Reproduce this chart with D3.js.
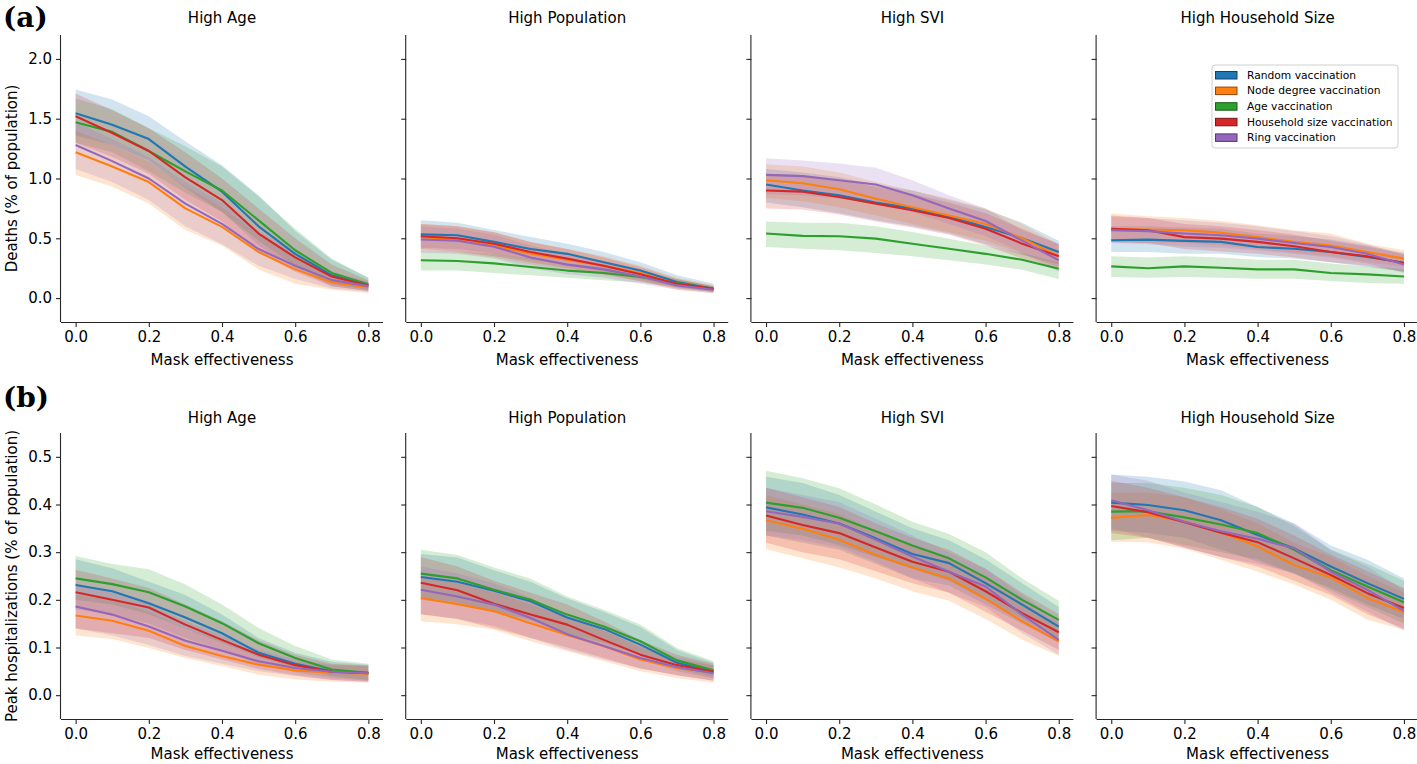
<!DOCTYPE html>
<html>
<head>
<meta charset="utf-8">
<script src="https://cdn.jsdelivr.net/npm/d3@7/dist/d3.min.js"></script>
<style>
  html, body { margin: 0; padding: 0; background: #fff; }
  svg { display: block; font-family: "DejaVu Sans", sans-serif; }
</style>
</head>
<body>
<svg id="chart" width="1417" height="764"></svg>
<script>
// ---------------- DATA ----------------
const maskEffectiveness = [0, 0.1, 0.2, 0.3, 0.4, 0.5, 0.6, 0.7, 0.8];
const xTicks = [0, 0.2, 0.4, 0.6, 0.8];
const deathTicks = [0, 0.5, 1.0, 1.5, 2.0];
const hospTicks = [0, 0.1, 0.2, 0.3, 0.4, 0.5];
const scenarios = ["High Age", "High Population", "High SVI", "High Household Size"];
const strategies = ["Random vaccination", "Node degree vaccination", "Age vaccination", "Household size vaccination", "Ring vaccination"];
const strategyColors = ["#1f77b4", "#ff7f0e", "#2ca02c", "#d62728", "#9467bd"];
const rowLabels = ["(a)", "(b)"];
const yLabels = ["Deaths (% of population)", "Peak hospitalizations (% of population)"];
const xLabel = "Mask effectiveness";

// Row (a): deaths. Order of series: Random, Node degree, Age, Household size, Ring
const deathsAgeMean = [
  [1.545, 1.45, 1.33, 1.10, 0.89, 0.60, 0.37, 0.19, 0.11],
  [1.22, 1.10, 0.97, 0.75, 0.595, 0.385, 0.24, 0.13, 0.09],
  [1.47, 1.39, 1.23, 1.06, 0.90, 0.65, 0.40, 0.21, 0.115],
  [1.52, 1.38, 1.23, 1.01, 0.82, 0.54, 0.34, 0.18, 0.105],
  [1.28, 1.145, 1.0, 0.79, 0.62, 0.41, 0.27, 0.15, 0.10]
];
const deathsAgeHi = [
  [1.745, 1.66, 1.52, 1.31, 1.11, 0.86, 0.56, 0.32, 0.17],
  [1.40, 1.28, 1.14, 0.93, 0.76, 0.53, 0.35, 0.20, 0.13],
  [1.67, 1.58, 1.42, 1.27, 1.10, 0.85, 0.58, 0.33, 0.17],
  [1.71, 1.57, 1.42, 1.22, 1.00, 0.75, 0.50, 0.28, 0.15],
  [1.47, 1.33, 1.18, 0.97, 0.80, 0.56, 0.38, 0.22, 0.14]
];
const deathsAgeLo = [
  [1.36, 1.28, 1.15, 0.92, 0.72, 0.44, 0.25, 0.10, 0.06],
  [1.03, 0.93, 0.79, 0.57, 0.44, 0.24, 0.12, 0.07, 0.04],
  [1.30, 1.22, 1.06, 0.88, 0.72, 0.48, 0.27, 0.12, 0.07],
  [1.30, 1.18, 1.04, 0.82, 0.64, 0.38, 0.22, 0.10, 0.06],
  [1.08, 0.97, 0.82, 0.60, 0.45, 0.27, 0.16, 0.08, 0.05]
];

const deathsPopMean = [
  [0.533, 0.525, 0.47, 0.41, 0.37, 0.30, 0.23, 0.134, 0.078],
  [0.51, 0.49, 0.44, 0.37, 0.32, 0.27, 0.21, 0.115, 0.073],
  [0.316, 0.31, 0.29, 0.26, 0.23, 0.21, 0.176, 0.126, 0.078],
  [0.517, 0.50, 0.455, 0.385, 0.33, 0.27, 0.20, 0.12, 0.078],
  [0.49, 0.48, 0.43, 0.34, 0.28, 0.24, 0.18, 0.106, 0.07]
];
const deathsPopHi = [
  [0.65, 0.63, 0.57, 0.51, 0.455, 0.385, 0.30, 0.19, 0.12],
  [0.62, 0.60, 0.55, 0.47, 0.41, 0.35, 0.27, 0.17, 0.11],
  [0.40, 0.39, 0.37, 0.33, 0.29, 0.26, 0.22, 0.16, 0.10],
  [0.62, 0.60, 0.55, 0.47, 0.41, 0.34, 0.26, 0.16, 0.10],
  [0.60, 0.58, 0.53, 0.44, 0.37, 0.31, 0.24, 0.15, 0.10]
];
const deathsPopLo = [
  [0.42, 0.41, 0.37, 0.32, 0.28, 0.22, 0.16, 0.09, 0.05],
  [0.40, 0.38, 0.34, 0.28, 0.24, 0.19, 0.14, 0.07, 0.04],
  [0.23, 0.23, 0.21, 0.19, 0.17, 0.15, 0.13, 0.09, 0.05],
  [0.41, 0.39, 0.35, 0.30, 0.25, 0.20, 0.14, 0.08, 0.05],
  [0.38, 0.37, 0.33, 0.25, 0.20, 0.17, 0.12, 0.07, 0.04]
];

const deathsSviMean = [
  [0.95, 0.90, 0.86, 0.80, 0.75, 0.68, 0.595, 0.50, 0.385],
  [0.985, 0.96, 0.91, 0.83, 0.76, 0.69, 0.62, 0.50, 0.35],
  [0.54, 0.52, 0.517, 0.497, 0.455, 0.413, 0.37, 0.32, 0.245],
  [0.90, 0.89, 0.846, 0.79, 0.735, 0.67, 0.58, 0.455, 0.35],
  [1.03, 1.02, 0.985, 0.95, 0.86, 0.75, 0.645, 0.48, 0.316]
];
const deathsSviHi = [
  [1.08, 1.05, 1.01, 0.95, 0.90, 0.82, 0.74, 0.63, 0.48],
  [1.12, 1.10, 1.05, 0.97, 0.90, 0.83, 0.75, 0.62, 0.45],
  [0.64, 0.63, 0.63, 0.60, 0.553, 0.497, 0.44, 0.377, 0.30],
  [1.04, 1.03, 0.99, 0.93, 0.87, 0.80, 0.71, 0.58, 0.45],
  [1.17, 1.15, 1.125, 1.09, 0.985, 0.86, 0.75, 0.567, 0.455]
];
const deathsSviLo = [
  [0.80, 0.76, 0.71, 0.65, 0.60, 0.54, 0.45, 0.36, 0.28],
  [0.84, 0.81, 0.76, 0.69, 0.62, 0.55, 0.48, 0.37, 0.26],
  [0.427, 0.413, 0.40, 0.377, 0.35, 0.316, 0.28, 0.237, 0.16],
  [0.75, 0.74, 0.70, 0.64, 0.59, 0.53, 0.44, 0.33, 0.25],
  [0.87, 0.86, 0.83, 0.79, 0.72, 0.62, 0.52, 0.38, 0.22]
];

const deathsHhMean = [
  [0.483, 0.489, 0.478, 0.47, 0.427, 0.413, 0.385, 0.343, 0.296],
  [0.58, 0.573, 0.567, 0.547, 0.51, 0.47, 0.44, 0.385, 0.33],
  [0.265, 0.25, 0.265, 0.254, 0.24, 0.24, 0.21, 0.198, 0.18],
  [0.58, 0.567, 0.51, 0.497, 0.47, 0.433, 0.385, 0.35, 0.293],
  [0.567, 0.56, 0.54, 0.525, 0.497, 0.46, 0.427, 0.37, 0.28]
];
const deathsHhHi = [
  [0.60, 0.60, 0.59, 0.58, 0.54, 0.52, 0.49, 0.44, 0.38],
  [0.707, 0.684, 0.67, 0.645, 0.61, 0.567, 0.54, 0.455, 0.40],
  [0.35, 0.34, 0.35, 0.34, 0.32, 0.32, 0.29, 0.265, 0.245],
  [0.69, 0.67, 0.62, 0.60, 0.57, 0.53, 0.48, 0.43, 0.37],
  [0.68, 0.67, 0.65, 0.63, 0.60, 0.56, 0.52, 0.45, 0.36]
];
const deathsHhLo = [
  [0.385, 0.385, 0.37, 0.37, 0.343, 0.33, 0.30, 0.26, 0.22],
  [0.47, 0.46, 0.46, 0.44, 0.41, 0.38, 0.35, 0.30, 0.26],
  [0.176, 0.17, 0.176, 0.17, 0.162, 0.162, 0.142, 0.126, 0.12],
  [0.47, 0.46, 0.41, 0.39, 0.37, 0.34, 0.30, 0.27, 0.22],
  [0.46, 0.45, 0.43, 0.42, 0.40, 0.37, 0.34, 0.29, 0.21]
];

// Row (b): peak hospitalizations
const hospAgeMean = [
  [0.231, 0.218, 0.193, 0.163, 0.13, 0.089, 0.066, 0.05, 0.047],
  [0.167, 0.156, 0.135, 0.103, 0.082, 0.064, 0.052, 0.047, 0.045],
  [0.245, 0.233, 0.216, 0.186, 0.151, 0.109, 0.078, 0.054, 0.047],
  [0.216, 0.20, 0.184, 0.148, 0.116, 0.085, 0.063, 0.049, 0.046],
  [0.186, 0.169, 0.144, 0.114, 0.093, 0.071, 0.057, 0.049, 0.046]
];
const hospAgeHi = [
  [0.285, 0.266, 0.238, 0.21, 0.169, 0.12, 0.089, 0.07, 0.064],
  [0.21, 0.20, 0.175, 0.14, 0.115, 0.09, 0.07, 0.062, 0.06],
  [0.292, 0.275, 0.264, 0.232, 0.19, 0.141, 0.103, 0.075, 0.066],
  [0.263, 0.245, 0.225, 0.19, 0.155, 0.115, 0.085, 0.066, 0.062],
  [0.235, 0.215, 0.19, 0.155, 0.125, 0.095, 0.075, 0.064, 0.062]
];
const hospAgeLo = [
  [0.18, 0.17, 0.15, 0.12, 0.095, 0.065, 0.048, 0.036, 0.03],
  [0.125, 0.118, 0.099, 0.078, 0.061, 0.043, 0.033, 0.028, 0.026],
  [0.20, 0.19, 0.17, 0.14, 0.11, 0.08, 0.058, 0.04, 0.032],
  [0.14, 0.13, 0.12, 0.095, 0.075, 0.055, 0.042, 0.032, 0.028],
  [0.14, 0.125, 0.105, 0.082, 0.066, 0.05, 0.04, 0.032, 0.028]
];

const hospPopMean = [
  [0.248, 0.238, 0.219, 0.197, 0.163, 0.139, 0.106, 0.068, 0.049],
  [0.204, 0.191, 0.176, 0.151, 0.126, 0.103, 0.075, 0.057, 0.047],
  [0.255, 0.245, 0.221, 0.20, 0.169, 0.144, 0.113, 0.073, 0.052],
  [0.236, 0.22, 0.192, 0.169, 0.148, 0.116, 0.085, 0.063, 0.049],
  [0.221, 0.207, 0.19, 0.162, 0.128, 0.103, 0.078, 0.059, 0.046]
];
const hospPopHi = [
  [0.296, 0.289, 0.262, 0.238, 0.203, 0.175, 0.143, 0.095, 0.068],
  [0.25, 0.235, 0.215, 0.19, 0.162, 0.135, 0.10, 0.075, 0.062],
  [0.305, 0.294, 0.268, 0.244, 0.207, 0.179, 0.148, 0.099, 0.071],
  [0.29, 0.27, 0.24, 0.215, 0.19, 0.155, 0.115, 0.085, 0.066],
  [0.27, 0.255, 0.235, 0.205, 0.165, 0.135, 0.105, 0.08, 0.063]
];
const hospPopLo = [
  [0.20, 0.19, 0.175, 0.155, 0.125, 0.105, 0.075, 0.05, 0.035],
  [0.155, 0.149, 0.137, 0.113, 0.092, 0.071, 0.05, 0.036, 0.026],
  [0.205, 0.195, 0.175, 0.158, 0.13, 0.11, 0.085, 0.055, 0.038],
  [0.17, 0.16, 0.14, 0.12, 0.10, 0.078, 0.056, 0.042, 0.03],
  [0.17, 0.16, 0.145, 0.12, 0.095, 0.075, 0.056, 0.042, 0.03]
];

const hospSviMean = [
  [0.394, 0.379, 0.36, 0.329, 0.296, 0.277, 0.235, 0.19, 0.144],
  [0.367, 0.349, 0.326, 0.294, 0.268, 0.245, 0.202, 0.155, 0.113],
  [0.404, 0.393, 0.372, 0.344, 0.314, 0.287, 0.247, 0.20, 0.158],
  [0.377, 0.357, 0.34, 0.31, 0.28, 0.259, 0.218, 0.172, 0.132],
  [0.386, 0.374, 0.36, 0.326, 0.291, 0.259, 0.228, 0.169, 0.116]
];
const hospSviHi = [
  [0.458, 0.445, 0.42, 0.385, 0.35, 0.325, 0.285, 0.235, 0.185],
  [0.42, 0.40, 0.38, 0.345, 0.315, 0.29, 0.245, 0.195, 0.15],
  [0.471, 0.455, 0.434, 0.40, 0.364, 0.338, 0.30, 0.245, 0.198],
  [0.435, 0.415, 0.395, 0.36, 0.33, 0.305, 0.265, 0.215, 0.17],
  [0.435, 0.42, 0.405, 0.37, 0.335, 0.30, 0.265, 0.21, 0.155]
];
const hospSviLo = [
  [0.335, 0.32, 0.305, 0.275, 0.245, 0.23, 0.19, 0.15, 0.11],
  [0.306, 0.287, 0.268, 0.245, 0.218, 0.198, 0.16, 0.116, 0.082],
  [0.345, 0.335, 0.315, 0.29, 0.265, 0.24, 0.2, 0.16, 0.12],
  [0.32, 0.30, 0.285, 0.26, 0.235, 0.215, 0.175, 0.135, 0.095],
  [0.335, 0.325, 0.31, 0.28, 0.245, 0.215, 0.185, 0.13, 0.085]
];

const hospHhMean = [
  [0.404, 0.399, 0.388, 0.367, 0.336, 0.308, 0.27, 0.235, 0.202],
  [0.372, 0.378, 0.365, 0.341, 0.312, 0.273, 0.247, 0.204, 0.174],
  [0.385, 0.386, 0.373, 0.358, 0.34, 0.305, 0.262, 0.228, 0.195],
  [0.397, 0.384, 0.363, 0.341, 0.321, 0.287, 0.252, 0.214, 0.183],
  [0.409, 0.388, 0.364, 0.344, 0.328, 0.308, 0.259, 0.221, 0.177]
];
const hospHhHi = [
  [0.463, 0.458, 0.448, 0.43, 0.395, 0.36, 0.314, 0.284, 0.245],
  [0.425, 0.425, 0.415, 0.39, 0.36, 0.32, 0.29, 0.25, 0.215],
  [0.445, 0.445, 0.435, 0.42, 0.395, 0.355, 0.305, 0.275, 0.24],
  [0.45, 0.435, 0.415, 0.395, 0.37, 0.335, 0.295, 0.26, 0.225],
  [0.463, 0.45, 0.425, 0.405, 0.385, 0.36, 0.305, 0.27, 0.22]
];
const hospHhLo = [
  [0.345, 0.34, 0.33, 0.305, 0.28, 0.255, 0.225, 0.19, 0.16],
  [0.322, 0.321, 0.307, 0.284, 0.259, 0.232, 0.20, 0.158, 0.137],
  [0.325, 0.33, 0.315, 0.3, 0.285, 0.255, 0.22, 0.185, 0.15],
  [0.34, 0.33, 0.31, 0.29, 0.27, 0.24, 0.21, 0.17, 0.14],
  [0.35, 0.33, 0.31, 0.29, 0.275, 0.255, 0.215, 0.175, 0.135]
];

// ---------------- LAYOUT ----------------
const svg = d3.select("#chart");
const panelLeft0 = 61, panelStep = 345.2, panelW = 322;
const rows = [
  { top: 35, bottom: 322, domain: [-0.2, 2.2], ticks: deathTicks,
    panels: [[deathsAgeMean, deathsAgeLo, deathsAgeHi], [deathsPopMean, deathsPopLo, deathsPopHi],
             [deathsSviMean, deathsSviLo, deathsSviHi], [deathsHhMean, deathsHhLo, deathsHhHi]],
    labelY: 27, titleY: 23, xLabelOffset: 43 },
  { top: 433, bottom: 719, domain: [-0.05, 0.55], ticks: hospTicks,
    panels: [[hospAgeMean, hospAgeLo, hospAgeHi], [hospPopMean, hospPopLo, hospPopHi],
             [hospSviMean, hospSviLo, hospSviHi], [hospHhMean, hospHhLo, hospHhHi]],
    labelY: 407, titleY: 423, xLabelOffset: 40 }
];

const fmt = d3.format(".1f");
const axisColor = "#262626";

rows.forEach((row, ri) => {
  const y = d3.scaleLinear().domain(row.domain).range([row.bottom, row.top]);

  // row label
  svg.append("text").attr("x", 3).attr("y", row.labelY)
    .attr("font-family", "'DejaVu Serif', serif").attr("font-weight", "bold")
    .attr("font-size", 28).attr("fill", "#000").text(rowLabels[ri]);

  // y label
  svg.append("text")
    .attr("transform", `translate(17,${(row.top + row.bottom) / 2}) rotate(-90)`)
    .attr("text-anchor", "middle").attr("font-size", 15).attr("fill", "#000")
    .text(yLabels[ri]);

  row.panels.forEach((pd, pi) => {
    const left = panelLeft0 + pi * panelStep;
    const x = d3.scaleLinear().domain([-0.04, 0.84]).range([left, left + panelW]);
    const g = svg.append("g");
    const [means, los, his] = pd;

    // bands
    strategies.forEach((s, si) => {
      const pts = maskEffectiveness.map((m, k) => ({ x: m, lo: los[si][k], hi: his[si][k] }));
      g.append("path").datum(pts)
        .attr("d", d3.area().x(d => x(d.x)).y0(d => y(d.lo)).y1(d => y(d.hi)))
        .attr("fill", strategyColors[si]).attr("fill-opacity", 0.2).attr("stroke", "none");
    });
    // mean lines
    strategies.forEach((s, si) => {
      const pts = maskEffectiveness.map((m, k) => ({ x: m, v: means[si][k] }));
      g.append("path").datum(pts)
        .attr("d", d3.line().x(d => x(d.x)).y(d => y(d.v)))
        .attr("fill", "none").attr("stroke", strategyColors[si]).attr("stroke-width", 2.1)
        .attr("stroke-linejoin", "round");
    });

    // x axis
    const xAxis = d3.axisBottom(x).tickValues(xTicks).tickFormat(fmt).tickSize(5).tickPadding(4);
    const xg = svg.append("g").attr("transform", `translate(0,${row.bottom})`).call(xAxis);
    xg.select(".domain").attr("stroke", axisColor).attr("stroke-width", 1.1)
      .attr("d", `M${left},0.5H${left + panelW}`);
    xg.selectAll(".tick line").attr("stroke", axisColor).attr("stroke-width", 1.1);
    xg.selectAll(".tick text").attr("font-size", 15).attr("fill", "#000")
      .attr("font-family", "'DejaVu Sans', sans-serif");

    // y axis
    const yAxis = d3.axisLeft(y).tickValues(row.ticks).tickFormat(pi === 0 ? fmt : () => "").tickSize(5).tickPadding(4);
    const yg = svg.append("g").attr("transform", `translate(${left},0)`).call(yAxis);
    yg.select(".domain").attr("d", `M-0.5,${row.top}V${row.bottom}`).attr("stroke", axisColor).attr("stroke-width", 1.1);
    yg.selectAll(".tick line").attr("stroke", axisColor).attr("stroke-width", 1.1);
    yg.selectAll(".tick text").attr("font-size", 15).attr("fill", "#000")
      .attr("font-family", "'DejaVu Sans', sans-serif");

    // x label
    svg.append("text").attr("x", left + panelW / 2).attr("y", row.bottom + row.xLabelOffset)
      .attr("text-anchor", "middle").attr("font-size", 15).attr("fill", "#000").text(xLabel);

    // title
    svg.append("text").attr("x", left + panelW / 2).attr("y", row.titleY)
      .attr("text-anchor", "middle").attr("font-size", 15).attr("fill", "#000").text(scenarios[pi]);
  });
});

// ---------------- LEGEND ----------------
const lg = svg.append("g").attr("transform", "translate(1212,65)");
lg.append("rect").attr("x", 0).attr("y", 0).attr("width", 186).attr("height", 83)
  .attr("rx", 3).attr("fill", "#fff").attr("fill-opacity", 0.8).attr("stroke", "#d0d0d0").attr("stroke-width", 1);
strategies.forEach((s, si) => {
  const cy = 10 + si * 15.6;
  lg.append("rect").attr("x", 3.5).attr("y", cy - 3.5).attr("width", 21.5).attr("height", 7.5)
    .attr("fill", strategyColors[si]).attr("stroke", d3.color(strategyColors[si]).darker(1.6)).attr("stroke-width", 1);
  lg.append("text").attr("x", 35).attr("y", cy).attr("dy", "0.35em")
    .attr("font-size", 10.7).attr("fill", "#000").text(s);
});
</script>
</body>
</html>
